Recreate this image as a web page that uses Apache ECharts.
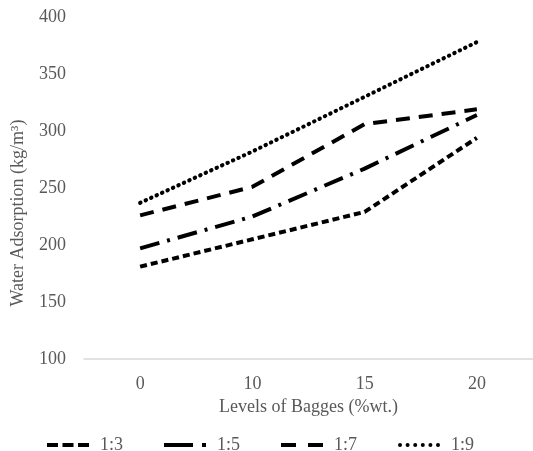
<!DOCTYPE html>
<html><head><meta charset="utf-8">
<script src="https://cdn.jsdelivr.net/npm/echarts@6/dist/echarts.min.js"></script>
<style>html,body{margin:0;padding:0;background:#fff}#c{width:533px;height:451px}</style>
</head><body><div id="c"></div>
<script>
const categories = ['0','10','15','20'];
const s13 = [181, 205, 229, 294];
const s15 = [197, 225, 267, 314];
const s17 = [226, 251, 306, 319];
const s19 = [237, 282, 330, 378];
const seriesNames = ['1:3','1:5','1:7','1:9'];
const font = 'Liberation Serif';
const txt = '#595959';
const legendIcons = [
  'path://M0,0h11v4h-11z M15.5,0h11v4h-11z M31,0h11v4h-11z',
  'path://M0,0h29v4h-29z M38,0h4v4h-4z',
  'path://M0,0h15v4h-15z M27,0h15v4h-15z',
  'path://M0,2a2,2 0 1,0 4,0a2,2 0 1,0 -4,0z M7.6,2a2,2 0 1,0 4,0a2,2 0 1,0 -4,0z M15.2,2a2,2 0 1,0 4,0a2,2 0 1,0 -4,0z M22.8,2a2,2 0 1,0 4,0a2,2 0 1,0 -4,0z M30.4,2a2,2 0 1,0 4,0a2,2 0 1,0 -4,0z M38,2a2,2 0 1,0 4,0a2,2 0 1,0 -4,0z'
];
const chart = echarts.init(document.getElementById('c'));
function mk(name, data, type, cap){
  return {name, type:'line', data, symbol:'none', smooth:false,
    lineStyle:{color:'#000', width:4, type, cap: cap||'butt'}, itemStyle:{color:'#000'}};
}
chart.setOption({
  animation:false,
  grid:{left:84, top:17, width:456, height:342},
  xAxis:{type:'category', data:categories, boundaryGap:true,
    axisLine:{lineStyle:{color:'#d9d9d9', width:1.5}}, axisTick:{show:false},
    axisLabel:{color:txt, fontFamily:font, fontSize:18, margin:16},
    name:'Levels of Bagges (%wt.)', nameLocation:'middle', nameGap:38,
    nameTextStyle:{color:txt, fontFamily:font, fontSize:18}},
  yAxis:{type:'value', min:100, max:400, interval:50,
    splitLine:{show:false}, axisLine:{show:false}, axisTick:{show:false},
    axisLabel:{color:txt, fontFamily:font, fontSize:18, margin:18},
    name:'Water Adsorption (kg/m³)', nameLocation:'middle', nameGap:57,
    nameTextStyle:{color:txt, fontFamily:font, fontSize:18, padding:[0,50,0,0]}},
  legend:{top:431, left:42, itemGap:41, itemWidth:42, itemHeight:4,
    textStyle:{color:txt, fontFamily:font, fontSize:18, padding:[0,0,0,6]},
    data:seriesNames.map((n,i)=>({name:n, icon:legendIcons[i]}))},
  series:[
    mk(seriesNames[0], s13, [7,4]),
    mk(seriesNames[1], s15, [20,8,3,8]),
    mk(seriesNames[2], s17, [14,9]),
    mk(seriesNames[3], s19, [0.5,5.5], 'round')
  ]
});
</script></body></html>
